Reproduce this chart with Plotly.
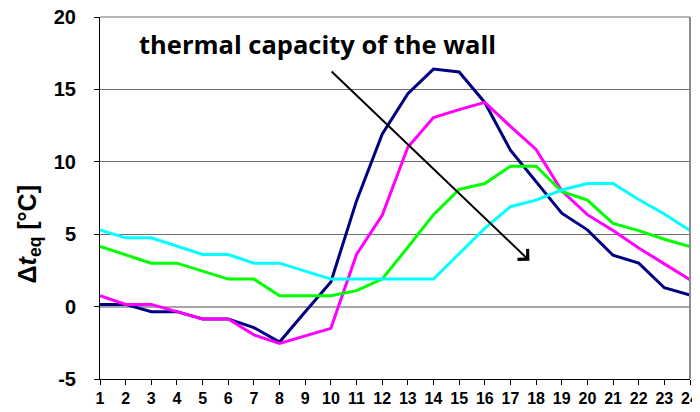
import plotly.graph_objects as go

# hour of the day
hours = list(range(1, 25))

# equivalent temperature difference [°C], one series per wall thermal capacity (low -> high)
dt_navy = [0.15, 0.15, -0.35, -0.35, -0.85, -0.85, -1.45, -2.45, -0.35, 1.7, 7.3, 11.9,
           14.7, 16.4, 16.2, 14.1, 10.8, 8.6, 6.45, 5.3, 3.55, 3.0, 1.3, 0.8]
dt_magenta = [0.75, 0.15, 0.15, -0.35, -0.85, -0.85, -1.95, -2.55, -2.0, -1.5, 3.6, 6.3,
              11.0, 13.05, 13.6, 14.1, 12.45, 10.85, 8.0, 6.35, 5.25, 4.05, 2.95, 1.85]
dt_green = [4.15, 3.55, 3.0, 3.0, 2.45, 1.9, 1.9, 0.75, 0.75, 0.75, 1.1, 1.9,
            4.1, 6.35, 8.1, 8.5, 9.7, 9.7, 7.95, 7.35, 5.75, 5.25, 4.65, 4.15]
dt_cyan = [5.3, 4.75, 4.75, 4.15, 3.6, 3.6, 3.0, 3.0, 2.45, 1.9, 1.9, 1.9,
           1.9, 1.9, 3.65, 5.4, 6.9, 7.35, 8.05, 8.5, 8.5, 7.4, 6.4, 5.25]

y_ticks = [-5, 0, 5, 10, 15, 20]
y_ticktext = ["-5", "0", "5", "10", "15", "20"]

series = [
    (dt_navy, "#000080"),
    (dt_magenta, "#FF00FF"),
    (dt_green, "#00FF00"),
    (dt_cyan, "#00FFFF"),
]

fig = go.Figure()
for values, colour in series:
    fig.add_trace(go.Scatter(x=hours, y=values, mode="lines",
                             line=dict(color=colour, width=3), showlegend=False))

# page body has an 8px margin, so the figure is 692x404 and sits at (8, 8)
fig.update_layout(
    width=692, height=404,
    margin=dict(l=92, r=10, t=9, b=33, autoexpand=False),
    plot_bgcolor="white", paper_bgcolor="white",
    font=dict(family="Liberation Sans, Arial", color="black"),
    xaxis=dict(
        range=[1, 24], tickmode="array", tickvals=hours,
        showgrid=False, zeroline=False, automargin=False,
        showline=True, linecolor="black", linewidth=1,
        ticks="outside", ticklen=5, tickcolor="black",
        ticklabeloverflow="allow",
        tickfont=dict(size=16, family="Liberation Sans, Arial", weight="bold"),
    ),
    yaxis=dict(
        range=[-5, 20], tickmode="array", tickvals=y_ticks, ticktext=y_ticktext,
        showgrid=True, gridcolor="#6e6e6e", gridwidth=1, automargin=False,
        zeroline=True, zerolinecolor="#a6a6a6", zerolinewidth=2,
        showline=True, linecolor="black", linewidth=1,
        ticks="outside", ticklen=5, tickcolor="black",
        ticklabelstandoff=14, ticklabeloverflow="allow",
        tickfont=dict(size=20, family="Liberation Sans, Arial", weight="bold"),
    ),
)

# top and right border of the plot area
fig.add_shape(type="line", xref="paper", yref="paper", x0=0, x1=1, y0=1, y1=1,
              line=dict(color="#6e6e6e", width=1))
fig.add_shape(type="line", xref="paper", yref="paper", x0=1, x1=1, y0=0, y1=1,
              line=dict(color="#8c8c8c", width=2))

# y axis title
fig.add_annotation(
    xref="paper", yref="paper", x=-0.12, y=0.40, xanchor="center", yanchor="middle",
    showarrow=False, textangle=-90,
    text="<b>Δ<i>t</i><sub>eq</sub> [°C]</b>",
    font=dict(size=25, family="Liberation Sans, Arial", color="black"),
)

# caption and arrow
fig.add_annotation(
    xref="paper", yref="paper", x=0.368, y=0.925, xanchor="center", yanchor="middle",
    showarrow=False,
    text="<b>thermal capacity of the wall</b>",
    font=dict(size=25.5, family="Open Sans", color="black"),
)
fig.add_annotation(
    x=17.74, y=3.17, ax=9.97, ay=16.34, xref="x", yref="y", axref="x", ayref="y",
    text="", showarrow=True, arrowhead=4, arrowsize=1.4, arrowwidth=2,
    arrowcolor="black",
)

fig.write_html("out.html")
